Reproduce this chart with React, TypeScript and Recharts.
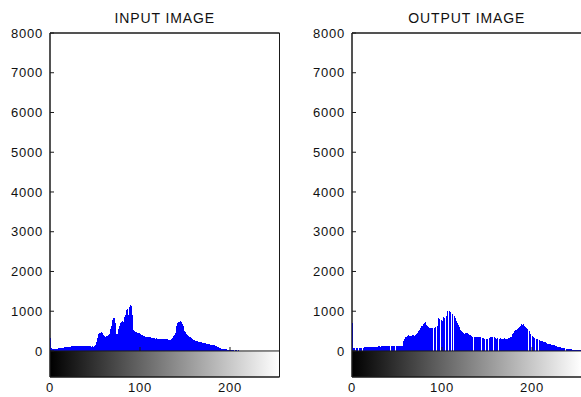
import React from 'react';
import { ComposedChart, Bar, XAxis, YAxis, ReferenceArea, ReferenceLine } from 'recharts';

const panelTitles = ['INPUT IMAGE', 'OUTPUT IMAGE'];
const yTicks = [0, 1000, 2000, 3000, 4000, 5000, 6000, 7000, 8000];
const xTicks = [0, 100, 200];
const yDomain = [-655, 8000];
const xDomain = [0, 255];

const inputCounts = [
  330, 75, 60, 55, 55, 60, 55, 60, 60, 65,
  65, 70, 70, 75, 80, 85, 90, 95, 100, 100,
  105, 110, 110, 115, 115, 120, 115, 120, 125, 120,
  115, 120, 125, 120, 115, 120, 120, 115, 120, 125,
  120, 115, 120, 115, 120, 115, 110, 115, 110, 115,
  150, 230, 320, 380, 420, 460, 440, 480, 450, 400,
  370, 360, 350, 370, 380, 400, 420, 560, 640, 780,
  830, 820, 850, 700, 430, 420, 560, 620, 700, 740,
  760, 740, 800, 860, 900, 1020, 1050, 900, 1100, 1150,
  1120, 1200, 900, 520, 490, 470, 480, 460, 450, 440,
  430, 420, 400, 390, 380, 370, 360, 350, 350, 340,
  340, 330, 340, 330, 320, 330, 320, 310, 320, 310,
  300, 310, 305, 300, 295, 300, 295, 290, 300, 290,
  280, 290, 275, 270, 280, 300, 330, 370, 400, 450,
  520, 620, 700, 740, 720, 760, 740, 680, 620, 560,
  500, 470, 430, 400, 380, 360, 340, 330, 310, 290,
  280, 270, 260, 250, 240, 235, 225, 220, 215, 210,
  205, 200, 200, 195, 185, 175, 170, 165, 160, 155,
  150, 150, 145, 140, 130, 115, 105, 100, 95, 85,
  70, 60, 55, 50, 45, 40, 40, 35, 30, 30,
  28, 25, 25, 20, 18, 0, 20, 0, 15, 0,
  15, 10, 0, 0, 0, 0, 0, 0, 0, 0,
  0, 0, 0, 0, 0, 0, 0, 0, 0, 0,
  0, 0, 0, 0, 0, 0, 0, 0, 0, 0,
  0, 0, 0, 0, 0, 0, 0, 0, 0, 0,
  0, 0, 0, 0, 0, 0,
];

const outputCounts = [
  710, 80, 75, 0, 80, 75, 80, 0, 80, 80,
  85, 0, 85, 90, 90, 95, 90, 95, 95, 95,
  100, 100, 100, 105, 105, 110, 105, 110, 110, 115,
  115, 110, 120, 125, 120, 125, 120, 125, 120, 115,
  120, 125, 0, 120, 115, 120, 125, 120, 0, 115,
  120, 125, 120, 0, 125, 130, 120, 240, 300, 340,
  360, 380, 370, 390, 380, 370, 380, 400, 390, 380,
  400, 420, 440, 460, 500, 540, 580, 620, 640, 680,
  700, 720, 690, 650, 620, 600, 590, 580, 570, 580,
  0, 570, 580, 600, 0, 620, 820, 800, 0, 780,
  760, 0, 860, 840, 0, 880, 1000, 0, 1000, 990,
  0, 960, 940, 0, 880, 820, 760, 700, 650, 600,
  560, 520, 490, 470, 450, 430, 440, 450, 440, 430,
  420, 410, 400, 380, 360, 0, 360, 350, 360, 350,
  0, 350, 360, 340, 0, 330, 320, 310, 0, 300,
  310, 300, 0, 330, 350, 340, 350, 0, 340, 330,
  320, 310, 320, 0, 310, 320, 310, 300, 310, 320,
  320, 310, 300, 310, 320, 330, 340, 360, 400, 430,
  460, 490, 520, 540, 560, 580, 600, 620, 650, 670,
  660, 680, 640, 610, 580, 560, 0, 500, 450, 420,
  0, 380, 340, 320, 0, 310, 300, 290, 0, 270,
  260, 250, 240, 235, 230, 215, 200, 190, 185, 180,
  170, 165, 160, 150, 145, 140, 130, 120, 115, 110,
  100, 95, 90, 85, 80, 75, 70, 65, 0, 60,
  55, 50, 45, 40, 40, 35, 0, 35, 30, 30,
  25, 25, 20, 20, 20, 20,
];

const axisColor = '#1a1a1a';
const fontFamily = '"Liberation Sans", Arial, sans-serif';
const textStyle = { fontSize: 13, fill: '#111', fontFamily, letterSpacing: 0.8 };

function Panel({ title, counts, left, gradId }: { title: string; counts: number[]; left: number; gradId: string }) {
  const data = counts.map((c, i) => ({ bin: i, count: c }));
  return (
    <div style={{ position: 'absolute', left, top: 0, width: 290, height: 397 }}>
      <div
        style={{
          position: 'absolute',
          left: 50,
          width: 229.5,
          top: 11,
          textAlign: 'center',
          fontSize: 14,
          lineHeight: '14px',
          letterSpacing: 0.9,
          color: '#111',
          fontFamily,
          whiteSpace: 'nowrap',
        }}
      >
        {title}
      </div>
      <ComposedChart
        width={290}
        height={397}
        data={data}
        margin={{ top: 32, right: 9.5, bottom: 0, left: 0 }}
        barCategoryGap={0}
        barGap={0}
      >
        <defs>
          <linearGradient id={gradId} x1="0" y1="0" x2="1" y2="0">
            <stop offset="0%" stopColor="#000000" />
            <stop offset="100%" stopColor="#ffffff" />
          </linearGradient>
        </defs>
        <XAxis xAxisId="bins" dataKey="bin" type="category" hide height={0} />
        <XAxis
          xAxisId="num"
          type="number"
          domain={xDomain}
          ticks={xTicks}
          allowDataOverflow
          height={20}
          tickSize={0}
          tickMargin={6}
          tickLine={false}
          axisLine={{ stroke: axisColor }}
          tick={textStyle}
        />
        <XAxis
          xAxisId="top"
          orientation="top"
          type="number"
          domain={xDomain}
          ticks={xTicks}
          allowDataOverflow
          height={1}
          tickSize={-4}
          tick={false}
          tickLine={{ stroke: axisColor }}
          axisLine={{ stroke: axisColor }}
        />
        <YAxis
          yAxisId="l"
          type="number"
          domain={yDomain}
          ticks={yTicks}
          allowDataOverflow
          width={50}
          tickSize={-4}
          tickMargin={11}
          tickLine={{ stroke: axisColor }}
          axisLine={{ stroke: axisColor }}
          tick={textStyle}
        />
        <YAxis
          yAxisId="r"
          orientation="right"
          type="number"
          domain={yDomain}
          ticks={yTicks}
          allowDataOverflow
          width={1}
          tickSize={-4}
          tick={false}
          tickLine={{ stroke: axisColor }}
          axisLine={{ stroke: axisColor }}
        />
        <ReferenceArea
          xAxisId="num"
          yAxisId="l"
          x1={xDomain[0]}
          x2={xDomain[1]}
          y1={yDomain[0]}
          y2={0}
          fill={`url(#${gradId})`}
          fillOpacity={1}
          stroke="none"
        />
        <ReferenceArea
          xAxisId="num"
          yAxisId="l"
          x1={xDomain[0]}
          x2={xDomain[1]}
          y1={yDomain[0]}
          y2={yDomain[1]}
          fill="none"
          fillOpacity={0}
          stroke={axisColor}
          strokeWidth={1}
        />
        <Bar
          xAxisId="bins"
          yAxisId="l"
          dataKey="count"
          fill="#0000ff"
          isAnimationActive={false}
          shapeRendering="crispEdges"
        />
        <ReferenceLine xAxisId="num" yAxisId="l" y={0} stroke={axisColor} />
        {xTicks.slice(1).map((t) => (
          <ReferenceLine
            key={t}
            xAxisId="num"
            yAxisId="l"
            segment={[{ x: t, y: 0 }, { x: t, y: 100 }]}
            stroke={axisColor}
          />
        ))}
      </ComposedChart>
    </div>
  );
}

export default function App() {
  return (
    <div
      style={{
        position: 'absolute',
        left: 0,
        top: 0,
        width: 581,
        height: 397,
        overflow: 'hidden',
        background: '#ffffff',
      }}
    >
      <Panel title={panelTitles[0]} counts={inputCounts} left={0} gradId="grayL" />
      <Panel title={panelTitles[1]} counts={outputCounts} left={302} gradId="grayR" />
    </div>
  );
}
